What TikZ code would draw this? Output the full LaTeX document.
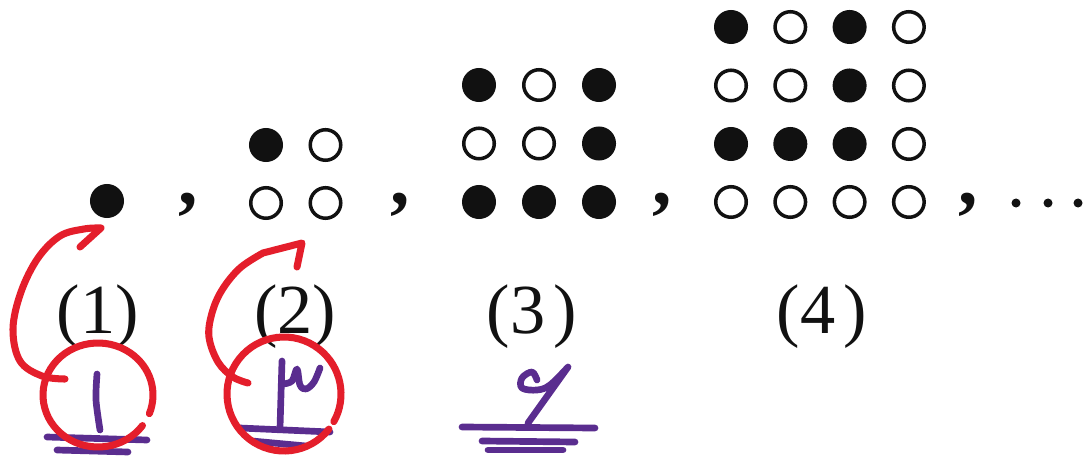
\documentclass[tikz,border=0pt]{standalone}
\usepackage{fontspec}
\setmainfont{Liberation Serif}
\definecolor{ink}{HTML}{111111}
\definecolor{penred}{HTML}{E41E2B}
\definecolor{penpurple}{HTML}{5A2D8F}
\tikzset{
  fulldot/.style={
    circle,
    fill=ink,
    minimum size=0.34cm,
    inner sep=0pt
  },
  opendot/.style={
    circle,
    draw=ink,
    line width=1pt,
    minimum size=0.305cm,
    inner sep=0pt
  },
  tinydot/.style={
    circle,
    fill=ink,
    minimum size=0.09cm,
    inner sep=0pt
  },
  sepcomma/.style={
    font=\bfseries\fontsize{22}{24}\selectfont,
    text=ink,
    anchor=base,
    inner sep=0pt
  },
  figlabel/.style={
    font=\fontsize{20}{24}\selectfont,
    text=ink,
    anchor=base,
    inner sep=0pt
  },
  redpen/.style={
    draw=penred,
    line width=2pt,
    line cap=round,
    line join=round
  },
  purplepen/.style={
    draw=penpurple,
    line width=1.9pt,
    line cap=round,
    line join=round
  }
}

\begin{document}
\begin{tikzpicture}[x=0.01cm,y=-0.01cm]

% Background
\fill[white] (0,0) rectangle (1089,458);
\useasboundingbox (0,0) rectangle (1089,458);

% ---------- Dot figures ----------
\node[fulldot] (a11) at (107,201) {};

\foreach \r/\y/\pat in {1/145/{fulldot,opendot}, 2/203/{opendot,opendot}}
  \foreach \s [count=\c] in \pat
    \node[\s] (b\r\c) at ({266+59.5*(\c-1)},\y) {};

\foreach \r/\y/\pat in {
  1/85/{fulldot,opendot,fulldot},
  2/143.5/{opendot,opendot,fulldot},
  3/202/{fulldot,fulldot,fulldot}}
  \foreach \s [count=\c] in \pat
    \node[\s] (c\r\c) at ({479+60*(\c-1)},\y) {};

\foreach \r/\y/\pat in {
  1/27/{fulldot,opendot,fulldot,opendot},
  2/85.5/{opendot,opendot,fulldot,opendot},
  3/144/{fulldot,fulldot,fulldot,opendot},
  4/202/{opendot,opendot,opendot,opendot}}
  \foreach \s [count=\c] in \pat
    \node[\s] (d\r\c) at ({731+59.3*(\c-1)},\y) {};

% commas and dots
\foreach \x [count=\i] in {188,400,662,968}
  \node[sepcomma] (comma\i) at (\x,205) {,};
\foreach \x [count=\i] in {1016,1048,1078}
  \node[tinydot] (more\i) at (\x,203) {};

% ---------- Labels ----------
\foreach \x/\t [count=\i] in {98/{(1)}, 295/{(2)}, 532/{(3\hspace{0.12em})}, 822/{(4\hspace{0.12em})}}
  \node[figlabel] (lab\i) at (\x,333) {\t};

% ---------- Purple handwriting ----------
\draw[purplepen] plot[smooth] coordinates {(97,374) (96,400) (100,430)};
\draw[purplepen] (47,437) -- (147,440);
\draw[purplepen] (57,450) -- (128,452);

\draw[purplepen] (282,361) -- (280,428);
\draw[purplepen] plot[smooth, tension=0.6] coordinates
  {(283,384) (292,381) (297,369) (300,385) (306,389) (314,382) (320,368)};
\draw[purplepen] (240,428) -- (330,432);
\draw[purplepen] (252,441) -- (306,446);

\draw[purplepen] plot[smooth, tension=0.6] coordinates
  {(537,380) (532,372) (522,378) (522,388) (537,390) (550,385) (568,367)} -- (528,423);
\draw[purplepen] (462,427) -- (595,428);
\draw[purplepen] (482,441) -- (575,442);
\draw[purplepen] (488,450) -- (563,450);

% ---------- Red circles and arrows ----------
\draw[redpen] (98,395) ++(36:55 and 52)
  arc[start angle=36, end angle=381, x radius=55, y radius=52];
\draw[redpen] plot[smooth, tension=0.6] coordinates
  {(65,379) (42,376) (20,361) (13,329) (21,292) (38,258) (60,236) (84,229) (101,228)} -- (80,247);

\draw[redpen] (284,394) ++(38:57 and 57)
  arc[start angle=38, end angle=389, x radius=57, y radius=57];
\draw[redpen] plot[smooth, tension=0.6] coordinates
  {(248,383) (233,377) (218,362) (209,337) (212,313) (222,290) (240,268) (263,253)} -- (302,243) -- (297,267);

\end{tikzpicture}
\end{document}
